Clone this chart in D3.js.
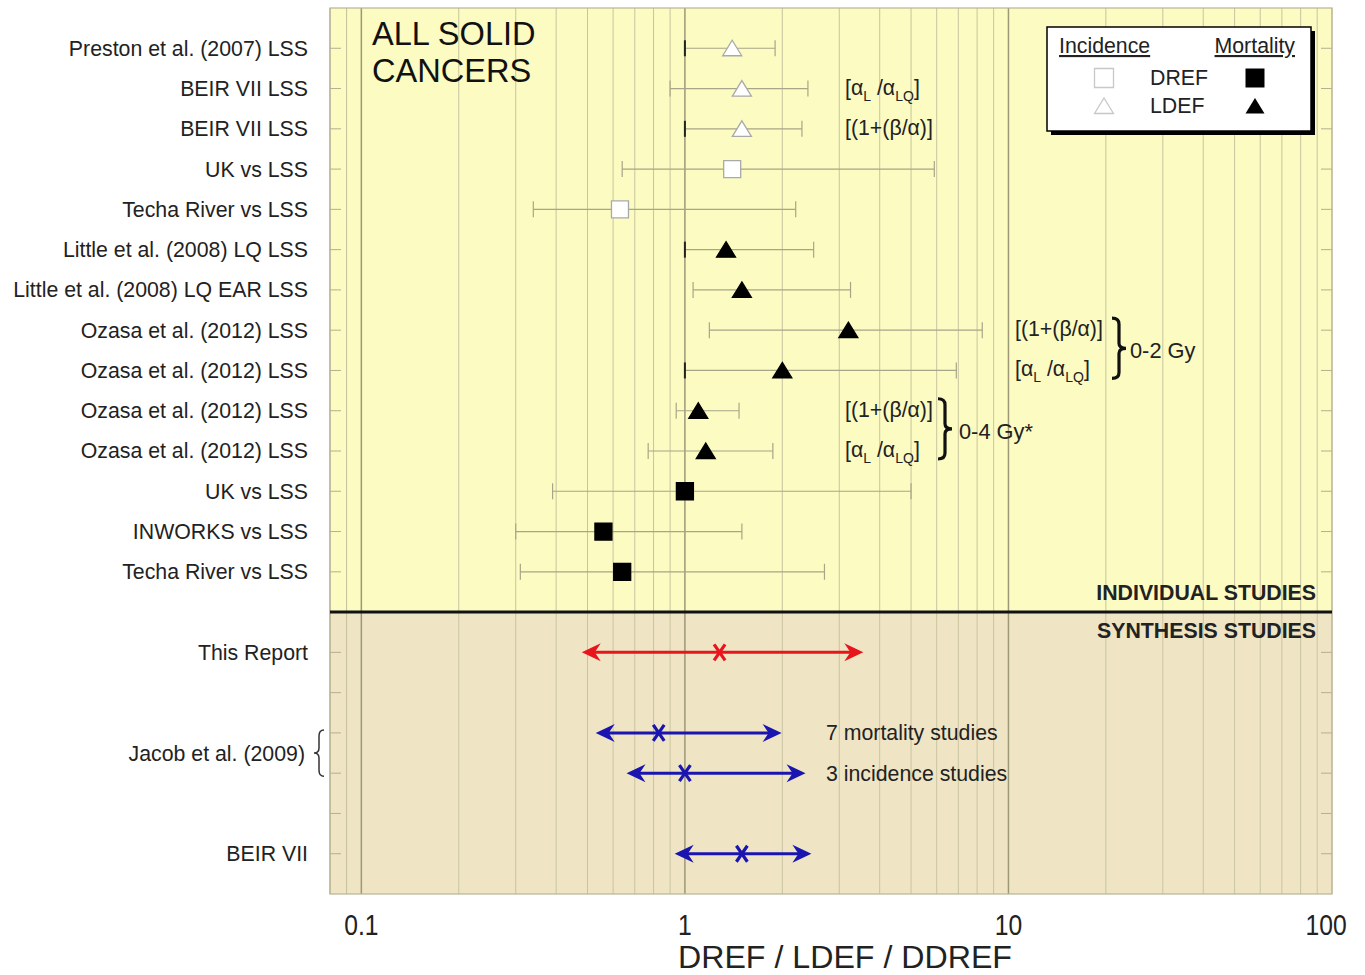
<!DOCTYPE html>
<html>
<head>
<meta charset="utf-8">
<script src="https://cdn.jsdelivr.net/npm/d3@7"></script>
<style>
  body { margin: 0; background: #fff; }
  text { font-family: "Liberation Sans", Arial, sans-serif; }
</style>
</head>
<body>
<div id="chart"></div>
<script>
// individual studies (rows 0..13)
var studyLabels = [
    "Preston et al. (2007) LSS", "BEIR VII LSS", "BEIR VII LSS", "UK vs LSS",
    "Techa River vs LSS", "Little et al. (2008) LQ LSS", "Little et al. (2008) LQ EAR LSS",
    "Ozasa et al. (2012) LSS", "Ozasa et al. (2012) LSS", "Ozasa et al. (2012) LSS",
    "Ozasa et al. (2012) LSS", "UK vs LSS", "INWORKS vs LSS", "Techa River vs LSS"
];
var studyShape = ["tri", "tri", "tri", "sq", "sq", "tri", "tri", "tri", "tri", "tri", "tri", "sq", "sq", "sq"];
var studyMortality = [false, false, false, false, false, true, true, true, true, true, true, true, true, true];
var studyValue = [1.4, 1.5, 1.5, 1.4, 0.63, 1.34, 1.5, 3.2, 2.0, 1.1, 1.16, 1.0, 0.56, 0.64];
var studyLow   = [1.0, 0.9, 1.0, 0.64, 0.34, 1.0, 1.06, 1.19, 1.0, 0.94, 0.77, 0.39, 0.30, 0.31];
var studyHigh  = [1.9, 2.4, 2.3, 5.9, 2.2, 2.5, 3.25, 8.3, 6.9, 1.47, 1.87, 5.0, 1.5, 2.7];

// synthesis studies
var synthLabels = ["This Report", "Jacob et al. (2009)", "BEIR VII"];
var synthLabelRows = [15, 17.5, 20];
var synthRows  = [15, 17, 18, 20];
var synthGroup = ["report", "other", "other", "other"];
var synthValue = [1.28, 0.83, 1.0, 1.5];
var synthLow   = [0.48, 0.53, 0.66, 0.93];
var synthHigh  = [3.56, 1.99, 2.36, 2.46];
var synthNotes = ["", "7 mortality studies", "3 incidence studies", ""];

var xTickValues = [0.1, 1, 10, 100];

var svgWidth = 1365, svgHeight = 975;
var margin = {top: 8, right: 33, bottom: 81, left: 330};
var width = svgWidth - margin.left - margin.right;
var height = svgHeight - margin.top - margin.bottom;
var fs = '21.3px';

var svg = d3.select('#chart').append('svg')
    .attr('width', svgWidth)
    .attr('height', svgHeight);

var g = svg.append('g').attr('transform', `translate(${margin.left}, ${margin.top})`);

var x = d3.scaleLog().domain([0.08, 100]).range([0, width]);
var y = d3.scaleLinear().domain([-1, 21]).range([0, height]);

// backgrounds
g.append('rect').attr('x', 0).attr('y', 0).attr('width', width).attr('height', y(14))
    .attr('fill', '#fbfbc2');
g.append('rect').attr('x', 0).attr('y', y(14)).attr('width', width).attr('height', height - y(14))
    .attr('fill', '#efe5c5');

// vertical grid
var gridVals = [0.08, 0.09].concat(x.ticks());
g.selectAll('line.grid').data(gridVals).enter().append('line')
    .attr('class', 'grid')
    .attr('x1', d => x(d)).attr('x2', d => x(d))
    .attr('y1', 0).attr('y2', height)
    .attr('stroke', d => xTickValues.indexOf(d) >= 0 && d < 100 ? '#9c9878' : '#c9c4a0')
    .attr('stroke-width', d => xTickValues.indexOf(d) >= 0 && d < 100 ? 1.5 : 1);

// row ticks on both sides
var rowTicks = d3.range(0, 21);
g.selectAll('line.ltick').data(rowTicks).enter().append('line')
    .attr('x1', 0).attr('x2', 11).attr('y1', d => y(d)).attr('y2', d => y(d))
    .attr('stroke', '#b5b090');
g.selectAll('line.rtick').data(rowTicks).enter().append('line')
    .attr('x1', width - 11).attr('x2', width).attr('y1', d => y(d)).attr('y2', d => y(d))
    .attr('stroke', '#b5b090');

// frame
g.append('rect').attr('width', width).attr('height', height)
    .attr('fill', 'none').attr('stroke', '#b8b493').attr('stroke-width', 1.2);

// divider
g.append('line').attr('x1', 0).attr('x2', width).attr('y1', y(14)).attr('y2', y(14))
    .attr('stroke', '#111').attr('stroke-width', 3);

// x axis
var bottomAxis = d3.axisBottom(x).tickValues(xTickValues).tickSize(0).tickPadding(20)
    .tickFormat(d => String(d));
var xAxisG = g.append('g').attr('transform', `translate(0, ${height})`).call(bottomAxis);
xAxisG.select('.domain').remove();
xAxisG.selectAll('text').attr('font-size', '29px').attr('fill', '#222')
    .attr('font-family', '"Liberation Sans", Arial, sans-serif')
    .attr('dx', d => d === 100 ? -7 : 0);
xAxisG.selectAll('.tick').attr('transform', d => `translate(${x(d)},0) scale(0.85,1)`);

g.append('text')
    .attr('x', 515).attr('y', height + 74)
    .attr('text-anchor', 'middle')
    .attr('font-size', '31px').attr('fill', '#222')
    .attr('textLength', 334).attr('lengthAdjust', 'spacingAndGlyphs')
    .text('DREF / LDEF / DDREF');

// row labels
g.selectAll('text.rowLabel').data(studyLabels).enter().append('text')
    .attr('class', 'rowLabel')
    .attr('x', -22).attr('y', (d, i) => y(i)).attr('dy', '0.35em')
    .attr('text-anchor', 'end').attr('font-size', fs).attr('fill', '#222')
    .text(d => d);
g.selectAll('text.synthLabel').data(synthLabels).enter().append('text')
    .attr('class', 'synthLabel')
    .attr('x', (d, i) => i === 1 ? -25 : -22).attr('y', (d, i) => y(synthLabelRows[i])).attr('dy', '0.35em')
    .attr('text-anchor', 'end').attr('font-size', fs).attr('fill', '#222')
    .text(d => d);

function bracePath(x0, y0, y1, w) {
    var ym = (y0 + y1) / 2, h = w / 2;
    return `M${x0},${y0} Q${x0 + h},${y0} ${x0 + h},${y0 + 6} L${x0 + h},${ym - 5} Q${x0 + h},${ym} ${x0 + w},${ym}` +
        ` Q${x0 + h},${ym} ${x0 + h},${ym + 5} L${x0 + h},${y1 - 6} Q${x0 + h},${y1} ${x0},${y1}`;
}
// Jacob brace
g.append('path').attr('d', bracePath(-6, y(17) - 3, y(18) + 3, -10))
    .attr('fill', 'none').attr('stroke', '#333').attr('stroke-width', 1.5);

// title
g.append('text').attr('x', 42).attr('y', 37).attr('font-size', '32.6px').attr('fill', '#111').text('ALL SOLID');
g.append('text').attr('x', 42).attr('y', 74).attr('font-size', '32.6px').attr('fill', '#111').text('CANCERS');

// error bars
var rows = d3.range(studyLabels.length);
g.selectAll('line.err').data(rows).enter().append('line')
    .attr('x1', i => x(studyLow[i])).attr('x2', i => x(studyHigh[i]))
    .attr('y1', i => y(i)).attr('y2', i => y(i))
    .attr('stroke', '#a8a688').attr('stroke-width', 1.2);
g.selectAll('line.capL').data(rows).enter().append('line')
    .attr('x1', i => x(studyLow[i])).attr('x2', i => x(studyLow[i]))
    .attr('y1', i => y(i) - 8).attr('y2', i => y(i) + 8)
    .attr('stroke', i => studyLow[i] === 1 ? '#222' : '#a8a688')
    .attr('stroke-width', i => studyLow[i] === 1 ? 2 : 1.2);
g.selectAll('line.capH').data(rows).enter().append('line')
    .attr('x1', i => x(studyHigh[i])).attr('x2', i => x(studyHigh[i]))
    .attr('y1', i => y(i) - 8).attr('y2', i => y(i) + 8)
    .attr('stroke', '#a8a688').attr('stroke-width', 1.2);

// markers
var triPath = 'M0,-8 L9.5,7.5 L-9.5,7.5 Z';
g.selectAll('path.marker').data(rows).enter().append('path')
    .attr('d', i => studyShape[i] === 'tri' ? triPath : 'M-8.5,-8.5 H8.5 V8.5 H-8.5 Z')
    .attr('transform', i => `translate(${x(studyValue[i])},${y(i)})`)
    .attr('fill', i => studyMortality[i] ? '#000' : '#fff')
    .attr('stroke', i => studyMortality[i] ? '#000' : '#a9a9a9')
    .attr('stroke-width', 1.3);

// formula annotations
function formulaRatio(sel) {
    sel.append('tspan').text('[\u03b1');
    sel.append('tspan').attr('dy', 6).attr('font-size', '14px').text('L');
    sel.append('tspan').attr('dy', -6).text(' /\u03b1');
    sel.append('tspan').attr('dy', 6).attr('font-size', '14px').text('LQ');
    sel.append('tspan').attr('dy', -6).text(']');
}
function formulaBeta(sel) {
    sel.text('[(1+(\u03b2/\u03b1)]');
}
var annotRows = [1, 2, 7, 8, 9, 10];
var annotKinds = ['ratio', 'beta', 'beta', 'ratio', 'beta', 'ratio'];
var annotCol = [0, 0, 1, 1, 0, 0];
annotRows.forEach(function(r, k) {
    var t = g.append('text')
        .attr('x', annotCol[k] ? 685 : 515).attr('y', y(r) + 6)
        .attr('font-size', fs).attr('fill', '#222');
    if (annotKinds[k] === 'ratio') formulaRatio(t); else formulaBeta(t);
});
g.append('path').attr('d', bracePath(782, y(7) - 12, y(8) + 8, 14))
    .attr('fill', 'none').attr('stroke', '#111').attr('stroke-width', 3.2);
g.append('text').attr('x', 800).attr('y', y(7.5) + 8).attr('font-size', '21.8px').attr('fill', '#222').text('0-2 Gy');
g.append('path').attr('d', bracePath(608, y(9) - 12, y(10) + 8, 14))
    .attr('fill', 'none').attr('stroke', '#111').attr('stroke-width', 3.2);
g.append('text').attr('x', 629).attr('y', y(9.5) + 8).attr('font-size', '21.8px').attr('fill', '#222').text('0-4 Gy*');

// section labels
g.append('text').attr('x', width - 16).attr('y', y(13.5) + 8).attr('text-anchor', 'end')
    .attr('font-size', fs).attr('font-weight', 'bold').attr('fill', '#222').text('INDIVIDUAL STUDIES');
g.append('text').attr('x', width - 16).attr('y', y(14.5) + 6).attr('text-anchor', 'end')
    .attr('font-size', fs).attr('font-weight', 'bold').attr('fill', '#222').text('SYNTHESIS STUDIES');

// synthesis arrows
var colorOf = c => c === 'report' ? '#e8161c' : '#1a14b0';
var sRows = d3.range(synthRows.length);
g.selectAll('line.arrow').data(sRows).enter().append('line')
    .attr('x1', i => x(synthLow[i]) + 8).attr('x2', i => x(synthHigh[i]) - 8)
    .attr('y1', i => y(synthRows[i])).attr('y2', i => y(synthRows[i]))
    .attr('stroke', i => colorOf(synthGroup[i])).attr('stroke-width', 3);
var headL = 'M0,0 L19,-9 L13,0 L19,9 Z';
var headR = 'M0,0 L-19,-9 L-13,0 L-19,9 Z';
g.selectAll('path.hl').data(sRows).enter().append('path')
    .attr('d', headL)
    .attr('transform', i => `translate(${x(synthLow[i])},${y(synthRows[i])})`)
    .attr('fill', i => colorOf(synthGroup[i]));
g.selectAll('path.hr').data(sRows).enter().append('path')
    .attr('d', headR)
    .attr('transform', i => `translate(${x(synthHigh[i])},${y(synthRows[i])})`)
    .attr('fill', i => colorOf(synthGroup[i]));
g.selectAll('path.xm').data(sRows).enter().append('path')
    .attr('d', 'M-5.5,-8 L5.5,8 M5.5,-8 L-5.5,8')
    .attr('transform', i => `translate(${x(synthValue[i])},${y(synthRows[i])})`)
    .attr('stroke', i => colorOf(synthGroup[i])).attr('stroke-width', 3.2).attr('fill', 'none');
g.selectAll('text.note').data(sRows.filter(i => synthNotes[i])).enter().append('text')
    .attr('x', 496).attr('y', i => y(synthRows[i])).attr('dy', '0.35em')
    .attr('font-size', fs).attr('fill', '#222')
    .text(i => synthNotes[i]);

// legend
var lg = g.append('g').attr('transform', 'translate(717, 19)');
lg.append('rect').attr('x', 4).attr('y', 4).attr('width', 264).attr('height', 104).attr('fill', '#000');
lg.append('rect').attr('x', 0).attr('y', 0).attr('width', 264).attr('height', 104)
    .attr('fill', '#fff').attr('stroke', '#000').attr('stroke-width', 1.5);
lg.append('text').attr('x', 12).attr('y', 26).attr('font-size', fs).attr('fill', '#222')
    .attr('text-decoration', 'underline').text('Incidence');
lg.append('text').attr('x', 248).attr('y', 26).attr('text-anchor', 'end').attr('font-size', fs).attr('fill', '#222')
    .attr('text-decoration', 'underline').text('Mortality');
var legendNames = ['DREF', 'LDEF'];
var legendShapes = ['sq', 'tri'];
legendNames.forEach(function(n, k) {
    var yy = 51 + k * 28;
    lg.append('text').attr('x', 103).attr('y', yy).attr('dy', '0.35em').attr('font-size', fs).attr('fill', '#222').text(n);
    var p = legendShapes[k] === 'tri' ? triPath : 'M-9.5,-9.5 H9.5 V9.5 H-9.5 Z';
    lg.append('path').attr('d', p).attr('transform', `translate(57,${yy})`)
        .attr('fill', '#fff').attr('stroke', '#c8c8c8').attr('stroke-width', 1.3);
    lg.append('path').attr('d', p).attr('transform', `translate(208,${yy})`)
        .attr('fill', '#000');
});
</script>
</body>
</html>
